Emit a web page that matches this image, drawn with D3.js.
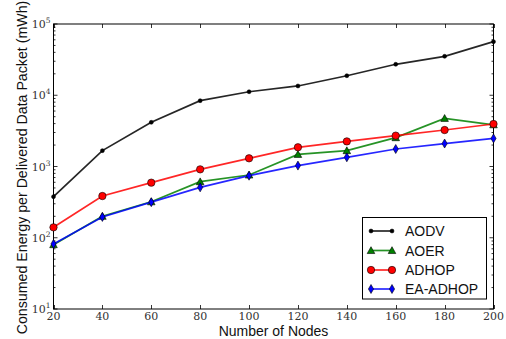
<!DOCTYPE html>
<html><head><meta charset="utf-8">
<script src="https://cdn.jsdelivr.net/npm/d3@7"></script>
<style>body{margin:0;background:#fff}svg{display:block}</style>
</head><body>
<script>
const nodes = [20, 40, 60, 80, 100, 120, 140, 160, 180, 200];
const aodv = [377, 1670, 4170, 8390, 11200, 13500, 18800, 27200, 35200, 56500];
const aoer = [80, 200, 320, 612, 760, 1480, 1670, 2540, 4740, 3850];
const adhop = [140, 385, 593, 912, 1303, 1860, 2250, 2710, 3250, 3950];
const eaAdhop = [82, 196, 316, 510, 743, 1030, 1346, 1760, 2100, 2480];
const seriesNames = ["AODV", "AOER", "ADHOP", "EA-ADHOP"];
const xTicks = [20, 40, 60, 80, 100, 120, 140, 160, 180, 200];
const yExponents = [1, 2, 3, 4, 5];

const W = 506, H = 339;
const m = {l: 53.5, r: 493.5, t: 24, b: 309};
const svg = d3.select("body").append("svg").attr("width", W).attr("height", H);

const x = d3.scaleLinear().domain([20, 200]).range([m.l, m.r]);
const y = d3.scaleLog().domain([10, 1e5]).range([m.b, m.t]);

const serif = "'DejaVu Serif', 'Liberation Serif', serif";
const sans = "'Liberation Sans', Arial, sans-serif";

// ticks
const tk = svg.append("g").attr("stroke", "#000").attr("stroke-width", 0.8);
xTicks.forEach(v => {
  const px = Math.round(x(v)) + 0.5;
  tk.append("line").attr("x1", px).attr("x2", px).attr("y1", m.b).attr("y2", m.b - 4);
  tk.append("line").attr("x1", px).attr("x2", px).attr("y1", m.t).attr("y2", m.t + 4);
});
yExponents.forEach((e, i) => {
  const py = y(Math.pow(10, e));
  tk.append("line").attr("x1", m.l).attr("x2", m.l + 4).attr("y1", py).attr("y2", py);
  tk.append("line").attr("x1", m.r).attr("x2", m.r - 4).attr("y1", py).attr("y2", py);
  if (i < yExponents.length - 1) {
    for (let k = 2; k <= 9; k++) {
      const my = y(k * Math.pow(10, e));
      tk.append("line").attr("x1", m.l).attr("x2", m.l + 2).attr("y1", my).attr("y2", my);
      tk.append("line").attr("x1", m.r).attr("x2", m.r - 2).attr("y1", my).attr("y2", my);
    }
  }
});

// tick labels
const xl = svg.append("g").attr("font-family", serif).attr("font-size", 11).attr("fill", "#333");
xTicks.forEach(v => {
  xl.append("text").attr("x", x(v)).attr("y", 320).attr("text-anchor", "middle").text(v);
});
yExponents.forEach(e => {
  const t = xl.append("text").attr("x", m.l - 3).attr("y", y(Math.pow(10, e)) + 4).attr("text-anchor", "end");
  t.append("tspan").text("10");
  t.append("tspan").attr("font-size", 7.5).attr("dy", -5).text(e);
});

// frame
svg.append("rect").attr("x", m.l).attr("y", m.t).attr("width", m.r - m.l).attr("height", m.b - m.t)
  .attr("fill", "none").attr("stroke", "#000").attr("stroke-width", 1);

// axis titles
svg.append("text").attr("x", (m.l + m.r) / 2).attr("y", 336).attr("text-anchor", "middle")
  .attr("font-family", sans).attr("font-size", 14).attr("fill", "#111").text("Number of Nodes");
svg.append("text").attr("transform", `translate(27,167.5) rotate(-90)`).attr("text-anchor", "middle")
  .attr("font-family", sans).attr("font-size", 14.2).attr("fill", "#111")
  .text("Consumed Energy per Delivered Data Packet (mWh)");

// series
const series = [
  {name: seriesNames[0], vals: aodv, color: "#000000", marker: "dot"},
  {name: seriesNames[1], vals: aoer, color: "#008000", marker: "tri"},
  {name: seriesNames[2], vals: adhop, color: "#ff0000", marker: "circle"},
  {name: seriesNames[3], vals: eaAdhop, color: "#0000ff", marker: "diamond"}
];

function drawMarker(g, type, cx, cy, color) {
  if (type === "dot") {
    g.append("circle").attr("cx", cx).attr("cy", cy).attr("r", 2).attr("fill", color).attr("stroke", "#000").attr("stroke-width", 0.5);
  } else if (type === "tri") {
    const s = 3.8;
    g.append("path").attr("d", `M${cx},${cy - s}L${cx + s},${cy + s * 0.8}L${cx - s},${cy + s * 0.8}Z`)
      .attr("fill", color).attr("stroke", "#000").attr("stroke-width", 0.6);
  } else if (type === "circle") {
    g.append("circle").attr("cx", cx).attr("cy", cy).attr("r", 3.7).attr("fill", color).attr("stroke", "#000").attr("stroke-width", 0.6);
  } else {
    g.append("path").attr("d", `M${cx},${cy - 4.5}L${cx + 2.6},${cy}L${cx},${cy + 4.5}L${cx - 2.6},${cy}Z`)
      .attr("fill", color).attr("stroke", "#000").attr("stroke-width", 0.6);
  }
}

const line = d3.line().x(d => x(d[0])).y(d => y(d[1]));
const plot = svg.append("g");
series.forEach(s => {
  const pts = nodes.map((n, i) => [n, s.vals[i]]);
  plot.append("path").attr("d", line(pts)).attr("fill", "none").attr("stroke", s.color)
    .attr("stroke-width", 1.7).attr("stroke-opacity", 0.85);
  pts.forEach(p => drawMarker(plot, s.marker, x(p[0]), y(p[1]), s.color));
});

// legend
const lg = svg.append("g");
lg.append("rect").attr("x", 362.5).attr("y", 217.5).attr("width", 124).attr("height", 81.5)
  .attr("fill", "#fff").attr("stroke", "#000").attr("stroke-width", 1);
const ly = [231, 250.5, 270, 289];
series.forEach((s, i) => {
  lg.append("line").attr("x1", 371).attr("x2", 392).attr("y1", ly[i]).attr("y2", ly[i])
    .attr("stroke", s.color).attr("stroke-width", 1.7).attr("stroke-opacity", 0.85);
  drawMarker(lg, s.marker, 371, ly[i], s.color);
  drawMarker(lg, s.marker, 392, ly[i], s.color);
  lg.append("text").attr("x", 405).attr("y", ly[i] + 5).attr("font-family", sans).attr("font-size", 14)
    .attr("fill", "#111").text(s.name);
});
</script>
</body></html>
